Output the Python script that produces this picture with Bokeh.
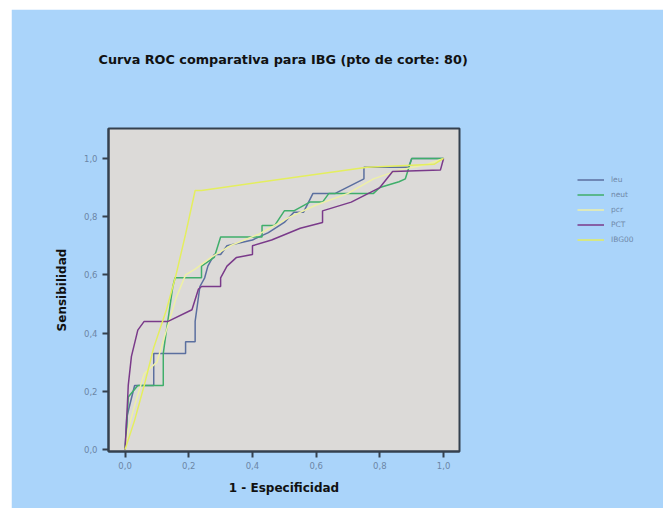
from bokeh.plotting import figure
from bokeh.models import Range1d, FixedTicker, Legend, LegendItem, Label
from bokeh.embed import file_html
from bokeh.resources import INLINE

title_text = "Curva ROC comparativa para IBG (pto de corte: 80)"
x_label = "1 - Especificidad"
y_label = "Sensibilidad"
tick_values = [0.0, 0.2, 0.4, 0.6, 0.8, 1.0]
tick_labels = ["0,0", "0,2", "0,4", "0,6", "0,8", "1,0"]

series_names = ["leu", "neut", "pcr", "PCT", "IBG00"]

leu_x = [0, 0.005, 0.03, 0.09, 0.09, 0.19, 0.19, 0.22, 0.22, 0.235, 0.25, 0.26, 0.28, 0.30, 0.32, 0.40, 0.45, 0.50, 0.53, 0.56, 0.59, 0.66, 0.75, 0.75, 0.89, 0.90, 1.0]
leu_y = [0, 0.11, 0.22, 0.22, 0.33, 0.33, 0.37, 0.37, 0.44, 0.56, 0.59, 0.63, 0.67, 0.67, 0.70, 0.72, 0.745, 0.78, 0.815, 0.815, 0.88, 0.88, 0.93, 0.97, 0.97, 1.0, 1.0]

neut_x = [0, 0.005, 0.01, 0.04, 0.12, 0.12, 0.13, 0.15, 0.157, 0.24, 0.24, 0.28, 0.30, 0.43, 0.43, 0.47, 0.50, 0.53, 0.58, 0.62, 0.64, 0.78, 0.80, 0.86, 0.88, 0.90, 1.0]
neut_y = [0, 0.07, 0.18, 0.22, 0.22, 0.33, 0.41, 0.56, 0.59, 0.59, 0.63, 0.66, 0.73, 0.73, 0.77, 0.77, 0.82, 0.82, 0.85, 0.85, 0.88, 0.88, 0.90, 0.92, 0.93, 1.0, 1.0]

pcr_x = [0, 0.01, 0.03, 0.06, 0.10, 0.13, 0.16, 0.19, 0.22, 0.27, 0.33, 0.42, 0.52, 0.60, 0.70, 0.78, 0.86, 0.95, 1.0]
pcr_y = [0, 0.07, 0.15, 0.26, 0.30, 0.41, 0.52, 0.60, 0.62, 0.66, 0.70, 0.74, 0.80, 0.84, 0.88, 0.93, 0.96, 0.98, 1.0]

pct_x = [0, 0.005, 0.01, 0.02, 0.04, 0.06, 0.135, 0.21, 0.23, 0.24, 0.30, 0.30, 0.32, 0.35, 0.40, 0.40, 0.46, 0.55, 0.62, 0.62, 0.71, 0.80, 0.84, 0.99, 1.0]
pct_y = [0, 0.10, 0.22, 0.32, 0.41, 0.44, 0.44, 0.48, 0.55, 0.56, 0.56, 0.59, 0.63, 0.66, 0.67, 0.70, 0.72, 0.76, 0.78, 0.82, 0.85, 0.90, 0.955, 0.96, 1.0]

ibg_x = [0, 0.03, 0.06, 0.09, 0.13, 0.16, 0.19, 0.22, 0.24, 0.50, 0.76, 0.97, 1.0]
ibg_y = [0, 0.10, 0.22, 0.35, 0.48, 0.60, 0.74, 0.89, 0.89, 0.93, 0.97, 0.98, 1.0]

colors = ["#5b6f9f", "#3fae6a", "#eef0a6", "#7a3a8a", "#e4ee5e"]

p = figure(frame_width=351, frame_height=323, output_backend="svg", toolbar_location=None,
           x_range=Range1d(-0.052, 1.050), y_range=Range1d(-0.007, 1.103),
           min_border_left=97, min_border_right=191, min_border_top=119, min_border_bottom=57)
p.margin = (9, 0, 0, 11)
p.background_fill_color = "#dcdad8"
p.border_fill_color = "#aad4fa"
p.outline_line_color = "#34404e"
p.outline_line_width = 2
p.grid.visible = False

for ax in (p.xaxis[0], p.yaxis[0]):
    ax.ticker = FixedTicker(ticks=tick_values)
    ax.major_label_overrides = {v: t for v, t in zip(tick_values, tick_labels)}
    ax.minor_tick_line_color = None
    ax.axis_line_color = "#34404e"
    ax.axis_line_width = 2
    ax.major_tick_line_color = "#34404e"
    ax.major_tick_line_width = 2
    ax.major_tick_in = 0
    ax.major_tick_out = 6
    ax.major_label_text_color = "#6c86a6"
    ax.major_label_text_font = "DejaVu Sans"
    ax.major_label_text_font_size = "8.5px"
    ax.axis_label_text_font = "DejaVu Sans"
    ax.axis_label_text_font_style = "bold"
    ax.axis_label_text_font_size = "12px"
    ax.axis_label_text_color = "#111111"

p.xaxis[0].axis_label = x_label
p.yaxis[0].axis_label = y_label
p.xaxis[0].major_label_standoff = 4
p.yaxis[0].major_label_standoff = 5
p.xaxis[0].axis_label_standoff = 9
p.yaxis[0].axis_label_standoff = 12

xs = [leu_x, neut_x, pcr_x, pct_x, ibg_x]
ys = [leu_y, neut_y, pcr_y, pct_y, ibg_y]
renderers = []
for x, y, c in zip(xs, ys, colors):
    renderers.append(p.line(x, y, line_color=c, line_width=1.5))

items = [LegendItem(label=n, renderers=[r]) for n, r in zip(series_names, renderers)]
legend = Legend(items=items, location=(118, 204), orientation="vertical",
                glyph_width=27, glyph_height=15, label_height=15, spacing=0,
                label_standoff=7, padding=0, margin=0,
                background_fill_alpha=0, border_line_color=None,
                label_text_font="DejaVu Sans", label_text_font_size="7.5px",
                label_text_color="#7088a8")
p.add_layout(legend, "right")

title_label = Label(x=-10, y=69, x_units="screen", y_units="screen", text=title_text,
                    text_font="DejaVu Sans", text_font_style="bold", text_font_size="12.8px",
                    text_color="#111111", text_align="left", text_baseline="middle")
p.add_layout(title_label, "above")

open("out.html", "w").write(file_html(p, INLINE))
